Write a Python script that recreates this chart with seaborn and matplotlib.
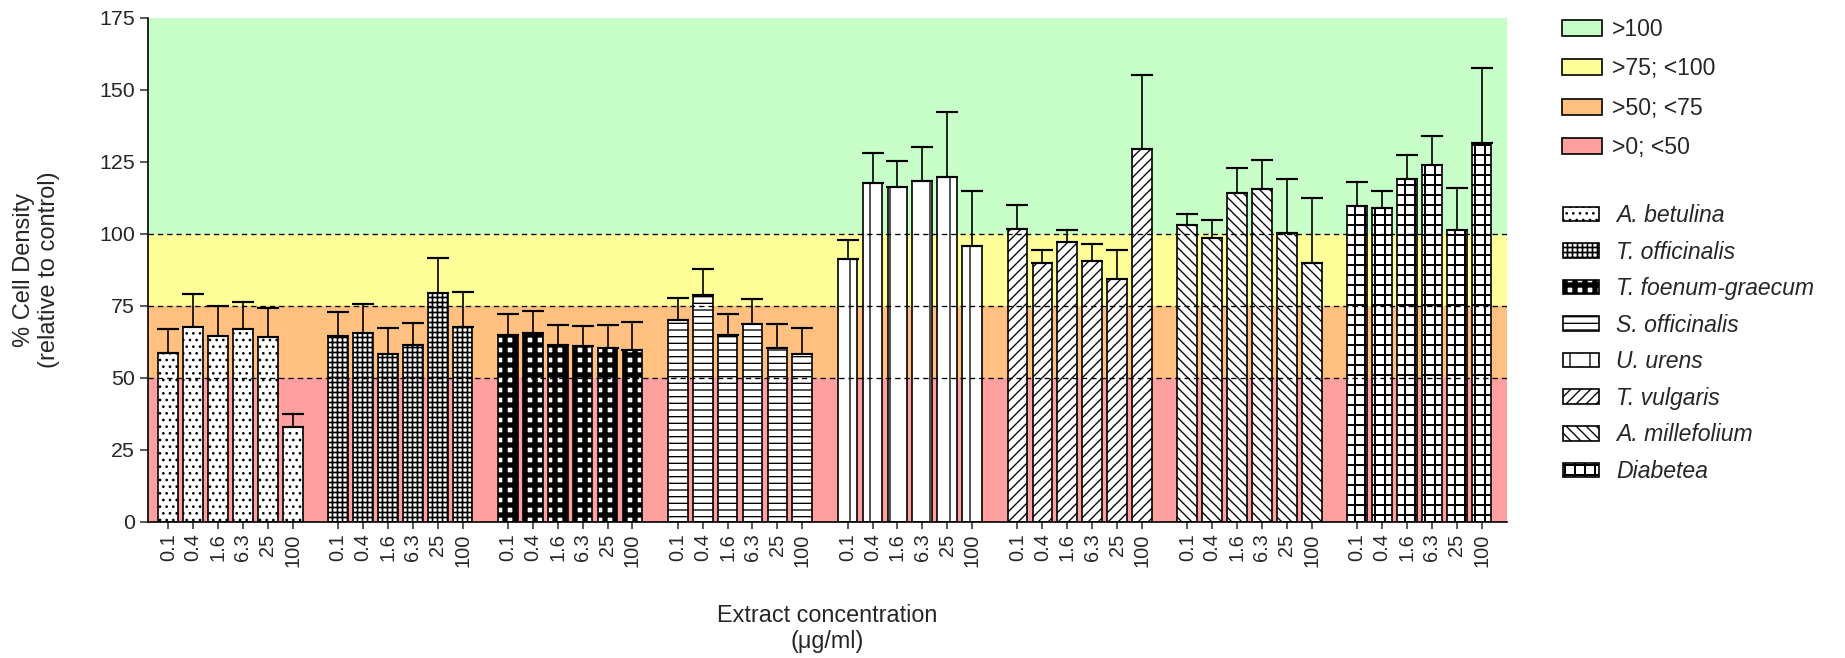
import numpy as np
import pandas as pd
import matplotlib
matplotlib.use("Agg")
import matplotlib.pyplot as plt
from matplotlib.patches import Patch
import seaborn as sns

# ---------------- data ----------------
concentrations = ["0.1", "0.4", "1.6", "6.3", "25", "100"]
extracts = ["A. betulina", "T. officinalis", "T. foenum-graecum", "S. officinalis",
            "U. urens", "T. vulgaris", "A. millefolium", "Diabetea"]

a_betulina = [58.6, 67.4, 64.4, 66.8, 63.9, 32.7]
t_officinalis = [64.5, 65.5, 58.0, 61.2, 79.4, 67.4]
t_foenum = [64.8, 65.4, 61.4, 60.8, 60.2, 59.6]
s_officinalis = [70.0, 78.7, 64.9, 68.5, 60.3, 58.0]
u_urens = [91.2, 117.5, 116.2, 118.1, 119.7, 95.6]
t_vulgaris = [101.4, 89.6, 97.0, 90.4, 84.2, 129.2]
a_millefolium = [102.8, 98.5, 114.0, 115.6, 100.3, 89.6]
diabetea = [109.6, 108.9, 119.0, 123.7, 101.3, 131.4]

a_betulina_err = [8.2, 11.5, 10.4, 9.4, 10.1, 4.7]
t_officinalis_err = [8.1, 10.0, 9.3, 7.7, 12.1, 12.2]
t_foenum_err = [7.3, 7.8, 6.9, 7.1, 8.1, 9.6]
s_officinalis_err = [7.7, 9.1, 7.2, 8.9, 8.2, 9.3]
u_urens_err = [6.5, 10.6, 8.9, 12.0, 22.5, 19.1]
t_vulgaris_err = [8.5, 4.7, 4.1, 6.0, 9.9, 25.8]
a_millefolium_err = [4.1, 6.2, 8.7, 10.0, 18.7, 22.7]
diabetea_err = [8.4, 6.0, 8.1, 10.0, 14.4, 26.0]

band_labels = [">100", ">75; <100", ">50; <75", ">0; <50"]
band_edges = [(100, 175), (75, 100), (50, 75), (0, 50)]
band_colors = ["#C8FFC8", "#FFFF99", "#FFC080", "#FFA0A0"]
thresholds = [50, 75, 100]

# ---------------- styling ----------------
hatches = ["...", "++++", "++", "---", "|", "////", "\\\\\\\\", "++"]
hatch_lw = [0.8, 1.0, 3.2, 0.8, 0.8, 0.8, 0.8, 1.2]

means = [a_betulina, t_officinalis, t_foenum, s_officinalis, u_urens,
         t_vulgaris, a_millefolium, diabetea]
errs = [a_betulina_err, t_officinalis_err, t_foenum_err, s_officinalis_err,
        u_urens_err, t_vulgaris_err, a_millefolium_err, diabetea_err]

GROUP_STEP = 6.82
rows = []
for g, ext in enumerate(extracts):
    for i, c in enumerate(concentrations):
        rows.append({"extract": ext, "conc": c, "pos": g * GROUP_STEP + i,
                     "value": means[g][i], "err": errs[g][i]})
df = pd.DataFrame(rows)

sns.set_style("ticks")
plt.rcParams["font.family"] = ["Liberation Sans", "DejaVu Sans"]
plt.rcParams["hatch.linewidth"] = 0.8
plt.rcParams["hatch.color"] = "black"

DPI = 120
fig = plt.figure(figsize=(1845 / DPI, 658 / DPI), dpi=DPI)
ax = fig.add_axes([148 / 1845, 1 - 521.5 / 658, (1507 - 148) / 1845, (521.5 - 17.5) / 658])

for (lo, hi), col in zip(band_edges, band_colors):
    ax.axhspan(lo, hi, color=col, zorder=0, lw=0)

sns.barplot(data=df, x="pos", y="value", hue="extract", hue_order=extracts,
            palette=["white"] * len(extracts), native_scale=True, dodge=False,
            width=0.79, errorbar=None, legend=False, saturation=1,
            edgecolor="black", linewidth=1.0, ax=ax, zorder=2)

for cont, h, hl in zip(ax.containers, hatches, hatch_lw):
    for bar in cont:
        bar.set_hatch(h)
        bar.set_edgecolor("black")
        if hasattr(bar, "set_hatch_linewidth"):
            bar.set_hatch_linewidth(hl)

ax.errorbar(df["pos"], df["value"], yerr=[np.zeros(len(df)), df["err"]],
            fmt="none", ecolor="black", elinewidth=1.0, capsize=6.5, capthick=1.3,
            zorder=3)

for t in thresholds:
    ax.axhline(t, color="black", lw=0.8, ls=(0, (4, 3)), zorder=4)

ax.set_xlim(-0.815, 53.76)
ax.set_ylim(0, 175)
ax.set_yticks(np.arange(0, 176, 25))
ax.set_xticks(df["pos"])
ax.set_xticklabels(df["conc"], rotation=90, ha="center", va="top", fontsize=12)
ax.tick_params(axis="y", labelsize=12.8, length=4.8, width=0.9, direction="out", pad=3)
ax.tick_params(axis="x", length=4.2, width=0.9, direction="out", pad=3)
for s in ["top", "right"]:
    ax.spines[s].set_visible(False)
for s in ["left", "bottom"]:
    ax.spines[s].set_linewidth(1.0)
    ax.spines[s].set_color("black")
ax.spines["bottom"].set_zorder(5)

ax.set_ylabel("% Cell Density\n(relative to control)", fontsize=14.2, linespacing=1.15)
ax.yaxis.set_label_coords(-0.065, 0.5)
ax.set_xlabel("Extract concentration\n(μg/ml)", fontsize=14.0, linespacing=1.2)
ax.xaxis.set_label_coords(0.5, -0.163)

band_handles = [Patch(facecolor=c, edgecolor="black", lw=1.0) for c in band_colors]
fig.legend(band_handles, band_labels, loc="upper left",
           bbox_to_anchor=(1562 / 1845, 1 - 18 / 658), frameon=False,
           fontsize=13.8, handlelength=1.74, handleheight=0.7, handletextpad=0.45,
           labelspacing=0.71, borderpad=0, borderaxespad=0)

ext_handles = [Patch(facecolor="white", edgecolor="black", hatch=h, lw=1.0) for h in hatches]
leg2 = fig.legend(ext_handles, extracts, loc="upper left",
                  bbox_to_anchor=(1563 / 1845, 1 - 204 / 658), frameon=False,
                  prop={"size": 13.8, "style": "italic",
                        "family": ["Liberation Sans", "DejaVu Sans"]},
                  handlelength=1.57, handleheight=0.6, handletextpad=0.75,
                  labelspacing=0.59, borderpad=0, borderaxespad=0)
for p, hl in zip(leg2.get_patches(), hatch_lw):
    if hasattr(p, "set_hatch_linewidth"):
        p.set_hatch_linewidth(hl)

fig.savefig("out.png", dpi=DPI)
